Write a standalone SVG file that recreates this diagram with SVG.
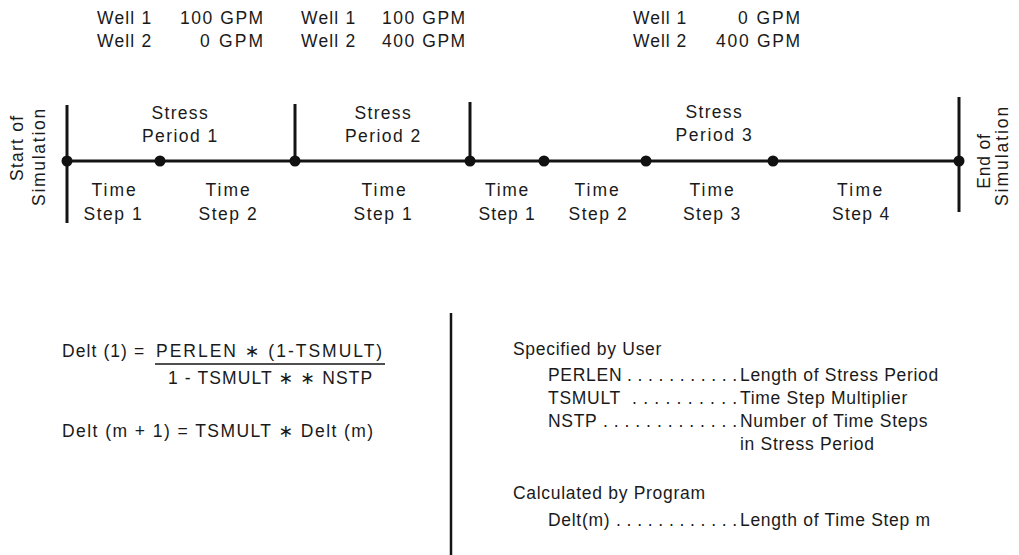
<svg xmlns="http://www.w3.org/2000/svg" width="1019" height="555" viewBox="0 0 1019 555">
<style>
text{font-family:"Liberation Sans",Arial,"DejaVu Sans",sans-serif;font-size:17.5px;fill:#1a1a1a;letter-spacing:0.8px}
.c{text-anchor:middle}
.e{text-anchor:end}
.r{letter-spacing:0.7px}
.ln{stroke:#141414;stroke-width:3;fill:none}
.thin{stroke:#141414;stroke-width:1.6;fill:none}
.dot{fill:#111}
</style>
<rect width="1019" height="555" fill="#ffffff"/>

<g id="wells-sp1">
<text x="97" y="24" textLength="55">Well 1</text><text class="e" x="264" y="24" textLength="84">100 GPM</text>
<text x="97" y="47" textLength="55">Well 2</text><text class="e" x="264" y="47" textLength="64">0 GPM</text>
</g>
<g id="wells-sp2">
<text x="301" y="24" textLength="55">Well 1</text><text class="e" x="466" y="24" textLength="84">100 GPM</text>
<text x="301" y="47" textLength="55">Well 2</text><text class="e" x="466" y="47" textLength="84">400 GPM</text>
</g>
<g id="wells-sp3">
<text x="633" y="24" textLength="54">Well 1</text><text class="e" x="801" y="24" textLength="63">0 GPM</text>
<text x="633" y="47" textLength="54">Well 2</text><text class="e" x="801" y="47" textLength="85">400 GPM</text>
</g>

<g id="connectors">
<line class="ln" x1="67" y1="161" x2="959" y2="161"/>
<line class="ln" x1="67" y1="105" x2="67" y2="223"/>
<line class="ln" x1="295" y1="104" x2="295" y2="161"/>
<line class="ln" x1="470" y1="102" x2="470" y2="161"/>
<line class="ln" x1="959" y1="97" x2="959" y2="212"/>
<circle class="dot" cx="67" cy="161" r="5.5"/>
<circle class="dot" cx="160" cy="161" r="5.5"/>
<circle class="dot" cx="295" cy="161" r="5.5"/>
<circle class="dot" cx="470" cy="161" r="5.5"/>
<circle class="dot" cx="544" cy="161" r="5.5"/>
<circle class="dot" cx="646" cy="161" r="5.5"/>
<circle class="dot" cx="773" cy="161" r="5.5"/>
<circle class="dot" cx="959" cy="161" r="5.5"/>
</g>

<g id="start-label">
<text class="c" transform="translate(23,148) rotate(-90)" textLength="66">Start of</text>
<text class="c" transform="translate(45,157) rotate(-90)" textLength="98">Simulation</text>
</g>
<g id="end-label">
<text class="c" transform="translate(990,161) rotate(-90)">End of</text>
<text class="c" transform="translate(1008,156) rotate(-90)" textLength="100">Simulation</text>
</g>

<g id="stress-period-1">
<text class="c" x="180" y="119" textLength="57">Stress</text><text class="c" x="180" y="142" textLength="76">Period 1</text>
</g>
<g id="stress-period-2">
<text class="c" x="383" y="119" textLength="57">Stress</text><text class="c" x="383" y="142" textLength="76">Period 2</text>
</g>
<g id="stress-period-3">
<text class="c" x="714" y="118" textLength="57">Stress</text><text class="c" x="714" y="141" textLength="77">Period 3</text>
</g>

<g id="sp1-ts1"><text class="c" x="114" y="196" textLength="45">Time</text><text class="c" x="113" y="220" textLength="59">Step 1</text></g>
<g id="sp1-ts2"><text class="c" x="228" y="196" textLength="45">Time</text><text class="c" x="228" y="220" textLength="59">Step 2</text></g>
<g id="sp2-ts1"><text class="c" x="384" y="196" textLength="45">Time</text><text class="c" x="383" y="220" textLength="59">Step 1</text></g>
<g id="sp3-ts1"><text class="c" x="507" y="196" textLength="44">Time</text><text class="c" x="507" y="220" textLength="57">Step 1</text></g>
<g id="sp3-ts2"><text class="c" x="597" y="196" textLength="45">Time</text><text class="c" x="598" y="220" textLength="59">Step 2</text></g>
<g id="sp3-ts3"><text class="c" x="712" y="196" textLength="45">Time</text><text class="c" x="712" y="220" textLength="58">Step 3</text></g>
<g id="sp3-ts4"><text class="c" x="860" y="196" textLength="46">Time</text><text class="c" x="861" y="220" textLength="58">Step 4</text></g>

<g id="divider">
<line x1="451" y1="313" x2="451" y2="555" stroke="#141414" stroke-width="2.5"/>
</g>

<g id="formulas">
<text x="62" y="357" textLength="83">Delt (1) =</text>
<text x="156" y="357" textLength="227">PERLEN ∗ (1-TSMULT)</text>
<line class="thin" x1="155" y1="364" x2="385" y2="364"/>
<text x="168" y="384" textLength="205">1 - TSMULT ∗ ∗ NSTP</text>
<text x="62" y="437" textLength="312">Delt (m + 1) = TSMULT ∗ Delt (m)</text>
</g>

<g id="definitions">
<text class="r" x="513" y="355">Specified by User</text>
<text class="r" x="548" y="381">PERLEN</text><text x="627" y="381" textLength="111" lengthAdjust="spacing">...........</text><text class="r" x="740" y="381">Length of Stress Period</text>
<text class="r" x="548" y="404">TSMULT</text><text x="632" y="404" textLength="106" lengthAdjust="spacing">..........</text><text class="r" x="740" y="404">Time Step Multiplier</text>
<text class="r" x="548" y="427">NSTP</text><text x="603" y="427" textLength="135" lengthAdjust="spacing">.............</text><text class="r" x="740" y="427">Number of Time Steps</text>
<text class="r" x="740" y="450">in Stress Period</text>
<text class="r" x="513" y="499">Calculated by Program</text>
<text class="r" x="548" y="526">Delt(m)</text><text x="616" y="526" textLength="122" lengthAdjust="spacing">............</text><text class="r" x="740" y="526">Length of Time Step m</text>
</g>
</svg>
